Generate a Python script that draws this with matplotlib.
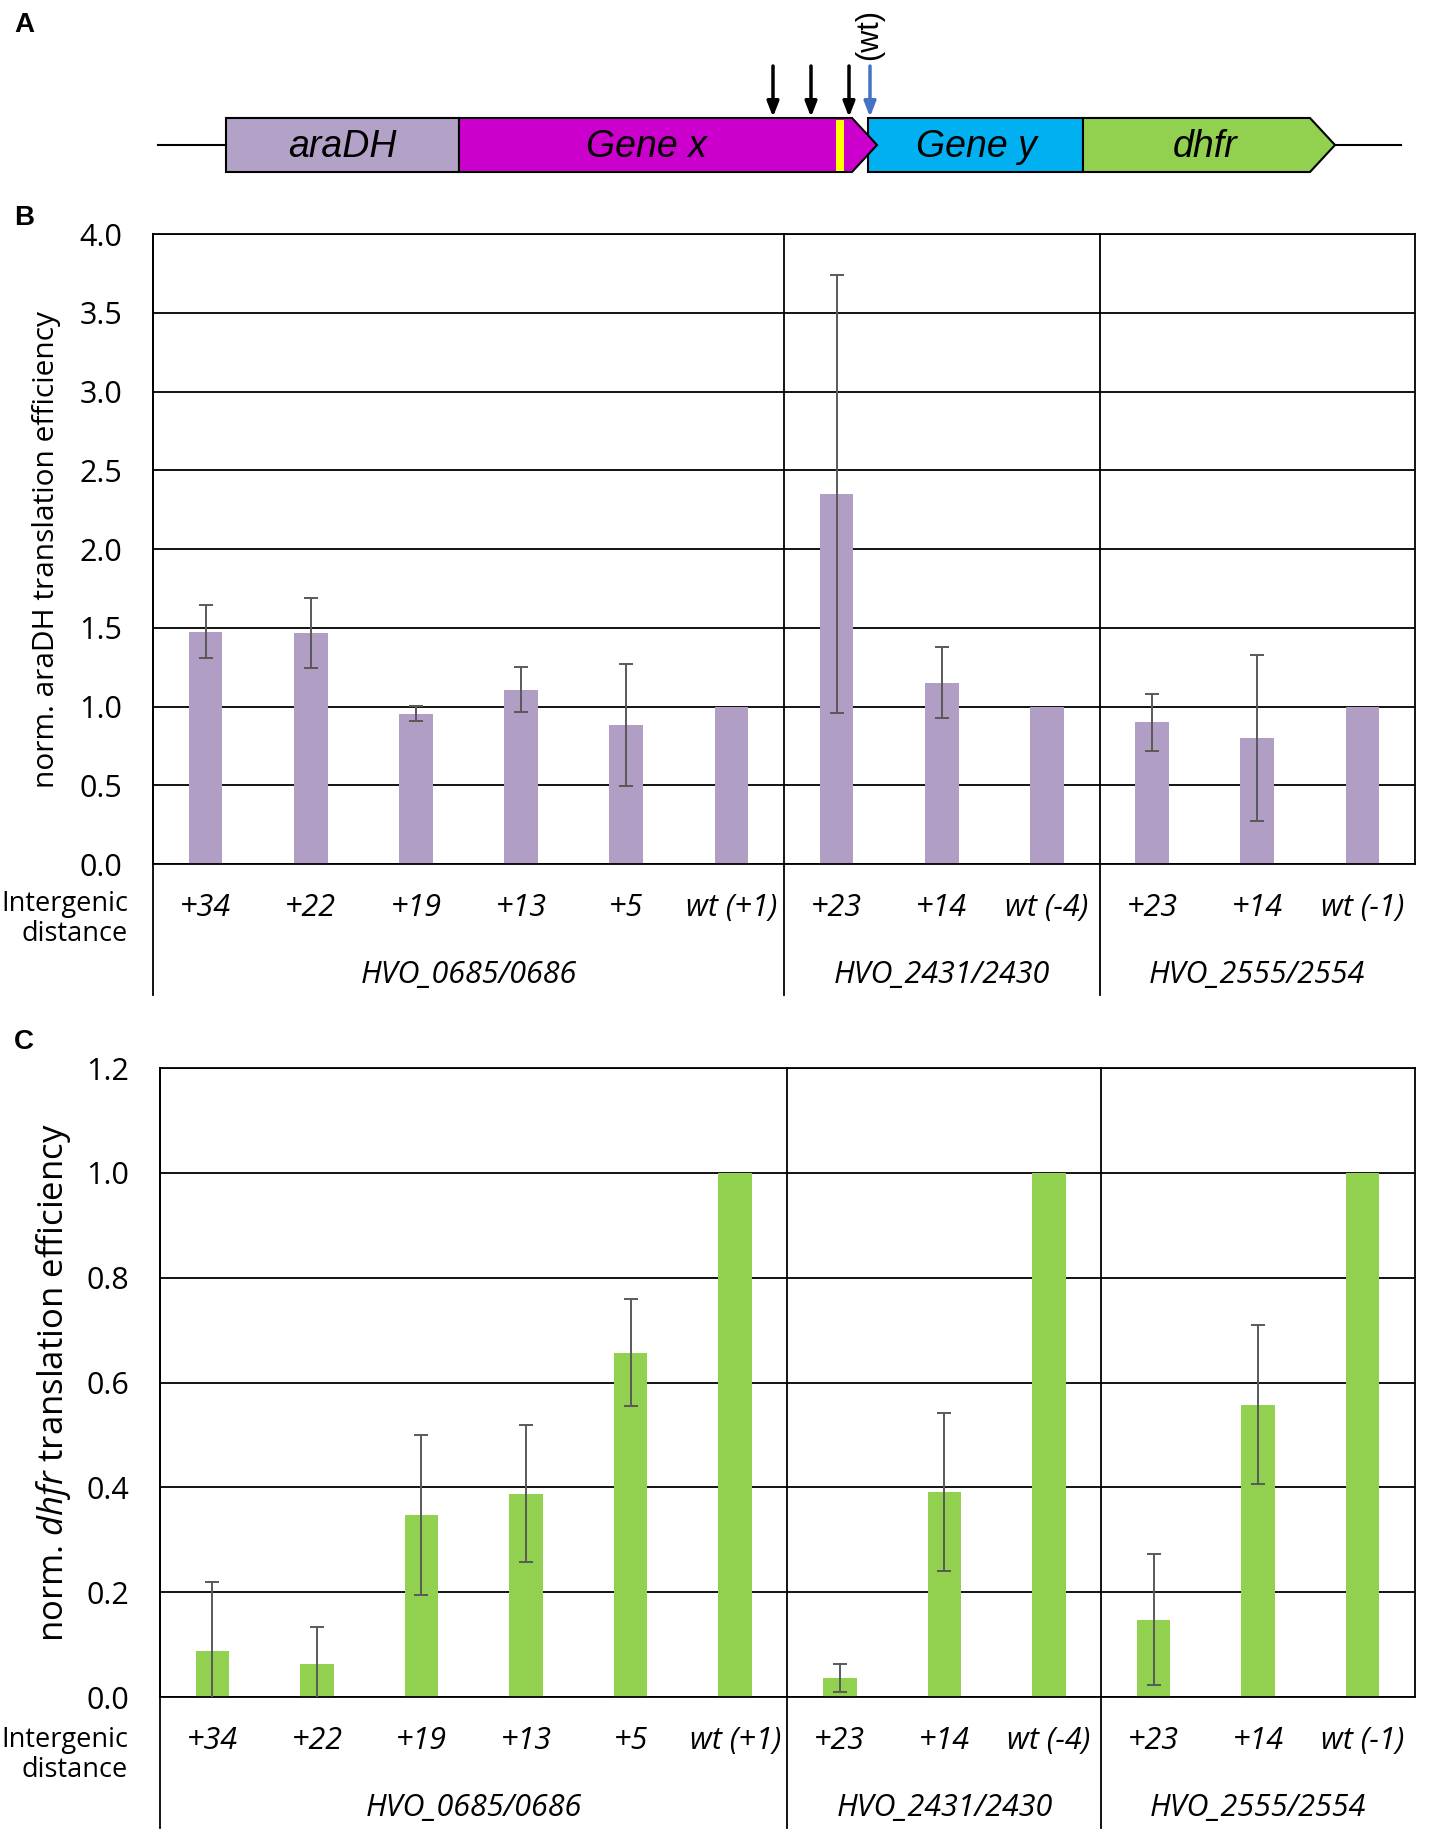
import matplotlib
matplotlib.use("Agg")
import matplotlib.pyplot as plt
import numpy as np
from matplotlib.patches import Rectangle, Polygon
import matplotlib.transforms as mtransforms

plt.rcParams['font.family'] = ['Open Sans', 'DejaVu Sans']
plt.rcParams['mathtext.fontset'] = 'custom'
plt.rcParams['mathtext.rm'] = 'Open Sans'
plt.rcParams['mathtext.it'] = 'Open Sans:italic'

# data
distances = ['+34', '+22', '+19', '+13', '+5', 'wt (+1)',
             '+23', '+14', 'wt (-4)',
             '+23', '+14', 'wt (-1)']
groups = ['HVO_0685/0686', 'HVO_2431/2430', 'HVO_2555/2554']
group_sizes = [6, 3, 3]

aradh_mean = [1.475, 1.467, 0.955, 1.105, 0.883, 1.0,
              2.35, 1.152, 1.0,
              0.90, 0.80, 1.0]
aradh_err = [0.17, 0.22, 0.048, 0.143, 0.387, 0.0,
             1.39, 0.226, 0.0,
             0.18, 0.53, 0.0]

dhfr_mean = [0.088, 0.063, 0.347, 0.388, 0.657, 1.0,
             0.036, 0.391, 1.0,
             0.147, 0.558, 1.0]
dhfr_err = [0.132, 0.071, 0.153, 0.13, 0.102, 0.0,
            0.027, 0.151, 0.0,
            0.125, 0.152, 0.0]

W, H = 1429, 1835
fig = plt.figure(figsize=(W / 100, H / 100), dpi=100)


def bar_panel(rect, means, errs, color, ymax, ystep, ylabel, ylabel_size, label_x):
    ax = fig.add_axes(rect)
    x = np.arange(len(means))
    ax.bar(x, means, width=0.32, color=color, zorder=2)
    m = np.array(errs) > 0
    ax.errorbar(x[m], np.array(means)[m], yerr=np.array(errs)[m], fmt='none',
                ecolor='#595959', elinewidth=1.4, capsize=4.8, capthick=1.4, zorder=3)
    ax.set_xlim(-0.5, len(means) - 0.5)
    ax.set_ylim(0, ymax)
    ticks = np.arange(0, ymax + 1e-9, ystep)
    ax.set_yticks(ticks)
    ax.set_yticklabels(['%.1f' % v for v in ticks])
    ax.yaxis.grid(True, color='black', lw=1.3, zorder=1)
    ax.set_axisbelow(True)
    ax.set_xticks([])
    ax.tick_params(axis='y', length=0, pad=22, labelsize=22)
    for s in ax.spines.values():
        s.set_color('black')
        s.set_linewidth(1.3)
    ax.set_ylabel(ylabel, fontsize=ylabel_size, va='center')
    ax.yaxis.set_label_coords(label_x, 0.5)

    trans = mtransforms.blended_transform_factory(ax.transData, ax.transAxes)
    # dividers between gene pairs, extended into the label area
    bounds = np.cumsum([0] + group_sizes) - 0.5
    for b in bounds[:-1]:
        ax.plot([b, b], [-0.208, 1], color='black', lw=1.3, transform=trans, clip_on=False)
    for i, d in enumerate(distances):
        ax.text(i, -0.07, d, transform=trans, ha='center', va='center',
                fontsize=22, style='italic')
    for g, lo, hi in zip(groups, bounds[:-1], bounds[1:]):
        ax.text((lo + hi) / 2, -0.176, g, transform=trans, ha='center', va='center',
                fontsize=22, style='italic')
    return ax


# panel B
axB = bar_panel([153 / W, 1 - 864 / H, 1262 / W, 630 / H], aradh_mean, aradh_err,
                '#B19EC5', 4.0, 0.5, 'norm. araDH translation efficiency', 21.5, -0.084)
fig.text(128 / W, 1 - 919 / H, 'Intergenic\ndistance', ha='right', va='center',
         fontsize=19.5, linespacing=1.1)

# panel C
axC = bar_panel([160 / W, 1 - 1697 / H, 1255 / W, 629 / H], dhfr_mean, dhfr_err,
                '#92D050', 1.2, 0.2, r'norm. $\mathit{dhfr}$ translation efficiency', 25, -0.085)
fig.text(128 / W, 1 - 1755 / H, 'Intergenic\ndistance', ha='right', va='center',
         fontsize=19.5, linespacing=1.1)

# panel A: gene cassette
axA = fig.add_axes([0, 1 - 200 / H, 1, 200 / H])
axA.set_xlim(0, W)
axA.set_ylim(200, 0)
axA.axis('off')
y0, y1, yc = 118, 172, 145
axA.plot([158, 226], [yc, yc], color='black', lw=1.5)
axA.plot([1335, 1401], [yc, yc], color='black', lw=1.5)
axA.add_patch(Rectangle((226, y0), 233, y1 - y0, facecolor='#B3A2C7', edgecolor='black', lw=1.5))
axA.add_patch(Rectangle((868, y0), 215, y1 - y0, facecolor='#00B0F0', edgecolor='black', lw=1.5))
axA.add_patch(Polygon([(459, y0), (852, y0), (877, yc), (852, y1), (459, y1)],
                      closed=True, facecolor='#CC00CC', edgecolor='black', lw=1.5))
axA.add_patch(Rectangle((836, y0 + 1.5), 8, y1 - y0 - 3, facecolor='#FFFF00', edgecolor='none'))
axA.add_patch(Polygon([(1083, y0), (1310, y0), (1335, yc), (1310, y1), (1083, y1)],
                      closed=True, facecolor='#92D050', edgecolor='black', lw=1.5))
gene_names = ['araDH', 'Gene x', 'Gene y', 'dhfr']
gene_x = [342, 646, 976, 1205]
for n, gx in zip(gene_names, gene_x):
    axA.text(gx, yc + 2, n, ha='center', va='center', fontsize=27, style='italic',
             family='Liberation Sans')
arrow_x = [773, 811, 849, 870]
arrow_c = ['black', 'black', 'black', '#4472C4']
for ax_, c in zip(arrow_x, arrow_c):
    axA.annotate('', xy=(ax_, 117), xytext=(ax_, 66),
                 arrowprops=dict(arrowstyle='-|>,head_width=0.35,head_length=0.9',
                                 color=c, lw=2.5, shrinkA=0, shrinkB=0))
axA.text(869, 34, '(wt)', rotation=90, ha='center', va='center', fontsize=22,
         family='Liberation Sans')

for lab, yy in zip(['A', 'B', 'C'], [25, 218, 1042]):
    fig.text(14 / W, 1 - yy / H, lab, ha='left', va='center', fontsize=20,
             fontweight='bold', family='Liberation Sans')

fig.savefig('out.png', dpi=100)
